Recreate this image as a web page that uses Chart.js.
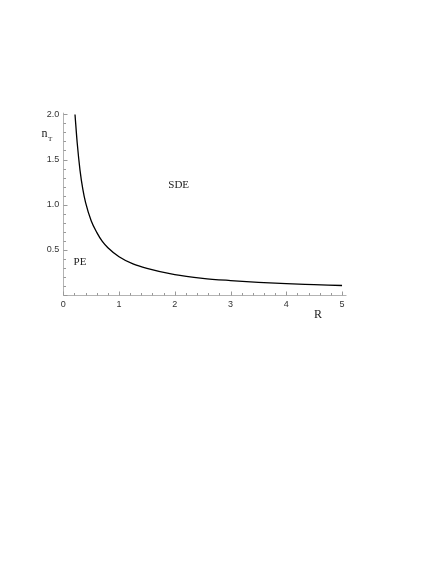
<!DOCTYPE html>
<html>
<head>
<meta charset="utf-8">
<script src="https://cdn.jsdelivr.net/npm/chart.js@4.4.0/dist/chart.umd.min.js"></script>
<style>
html,body{margin:0;padding:0;background:#fff;}
#wrap{position:relative;width:436px;height:564px;}
</style>
</head>
<body>
<div id="wrap"><canvas id="c" width="436" height="564"></canvas></div>
<script>
// Data
const R_VALUES  = [0.21, 0.25, 0.30, 0.35, 0.40, 0.50, 0.60, 0.70, 0.80, 1.00, 1.25, 1.50, 2.00, 2.50, 3.00, 3.50, 4.00, 4.50, 5.00];
const NT_VALUES = [2.00, 1.68, 1.38, 1.17, 1.02, 0.82, 0.69, 0.59, 0.52, 0.42, 0.34, 0.29, 0.22, 0.18, 0.155, 0.135, 0.12, 0.11, 0.10];
const X_TICKS = [0, 1, 2, 3, 4, 5];
const Y_TICKS = [0.5, 1.0, 1.5, 2.0];
const X_MINOR_STEP = 0.2;
const Y_MINOR_STEP = 0.1;
const REGION_LABELS = [
  {text: 'SDE', x: 2.07, y: 1.22},
  {text: 'PE',  x: 0.3, y: 0.36}
];

const points = R_VALUES.map((r, i) => ({x: r, y: NT_VALUES[i]}));

const axesPlugin = {
  id: 'mmaAxes',
  afterDraw(chart) {
    const ctx = chart.ctx;
    const xs = chart.scales.x, ys = chart.scales.y;
    const x0 = xs.getPixelForValue(0), y0 = ys.getPixelForValue(0);
    const xEnd = xs.getPixelForValue(xs.max), yEnd = ys.getPixelForValue(ys.max);
    ctx.save();
    ctx.strokeStyle = '#b3b3b3';
    ctx.lineWidth = 1;
    ctx.beginPath();
    ctx.moveTo(x0, Math.round(y0) + 0.5); ctx.lineTo(xEnd, Math.round(y0) + 0.5);
    ctx.moveTo(Math.round(x0) + 0.5, y0); ctx.lineTo(Math.round(x0) + 0.5, yEnd);
    ctx.stroke();
    // ticks (inward)
    ctx.strokeStyle = '#999';
    ctx.beginPath();
    for (let v = 0; v <= xs.max + 1e-9; v += X_MINOR_STEP) {
      const major = Math.abs(v - Math.round(v)) < 1e-6;
      const px = Math.round(xs.getPixelForValue(v)) + 0.5;
      ctx.moveTo(px, Math.round(y0) + 0.5);
      ctx.lineTo(px, Math.round(y0) + 0.5 - (major ? 4 : 2.5));
    }
    for (let v = 0; v <= ys.max + 1e-9; v += Y_MINOR_STEP) {
      const major = Math.abs(v * 2 - Math.round(v * 2)) < 1e-6;
      const py = Math.round(ys.getPixelForValue(v)) + 0.5;
      ctx.moveTo(Math.round(x0) + 0.5, py);
      ctx.lineTo(Math.round(x0) + 0.5 + (major ? 4 : 2.5), py);
    }
    ctx.stroke();
    // labels
    ctx.fillStyle = '#222';
    ctx.font = '11px "Liberation Serif", "Times New Roman", serif';
    ctx.textAlign = 'center';
    ctx.textBaseline = 'middle';
    REGION_LABELS.forEach(l => {
      ctx.fillText(l.text, xs.getPixelForValue(l.x), ys.getPixelForValue(l.y));
    });
    ctx.font = '12px "Liberation Serif", "Times New Roman", serif';
    ctx.fillText('R', 318, 315);
    ctx.textAlign = 'left';
    ctx.fillText('n', 41.5, 134);
    ctx.font = '7px "Liberation Serif", "Times New Roman", serif';
    ctx.fillText('T', 48, 139);
    ctx.restore();
  }
};

new Chart(document.getElementById('c'), {
  type: 'scatter',
  data: {
    datasets: [{
      data: points,
      showLine: true,
      borderColor: '#000',
      borderWidth: 1.3,
      pointRadius: 0,
      fill: false,
      cubicInterpolationMode: 'monotone'
    }]
  },
  options: {
    responsive: false,
    animation: false,
    devicePixelRatio: 1,
    layout: {padding: {left: 33.3, top: 112.7, right: 89.5, bottom: 249.5}},
    plugins: {legend: {display: false}, tooltip: {enabled: false}},
    scales: {
      x: {
        type: 'linear', min: 0, max: 5.08,
        afterBuildTicks(s) { s.ticks = X_TICKS.map(v => ({value: v})); },
        afterFit(s) { s.height = 20; },
        grid: {display: false, drawTicks: false},
        border: {display: false},
        ticks: {padding: 5, color: '#333', font: {family: '"Liberation Sans", Arial, sans-serif', size: 9},
                callback: v => String(v), maxRotation: 0, autoSkip: false}
      },
      y: {
        type: 'linear', min: 0, max: 2.02,
        afterBuildTicks(s) { s.ticks = Y_TICKS.map(v => ({value: v})); },
        afterFit(s) { s.width = 30; },
        grid: {display: false, drawTicks: false},
        border: {display: false},
        ticks: {padding: 4, color: '#333', font: {family: '"Liberation Sans", Arial, sans-serif', size: 9},
                callback: v => v.toFixed(1), autoSkip: false}
      }
    }
  },
  plugins: [axesPlugin]
});
</script>
</body>
</html>
